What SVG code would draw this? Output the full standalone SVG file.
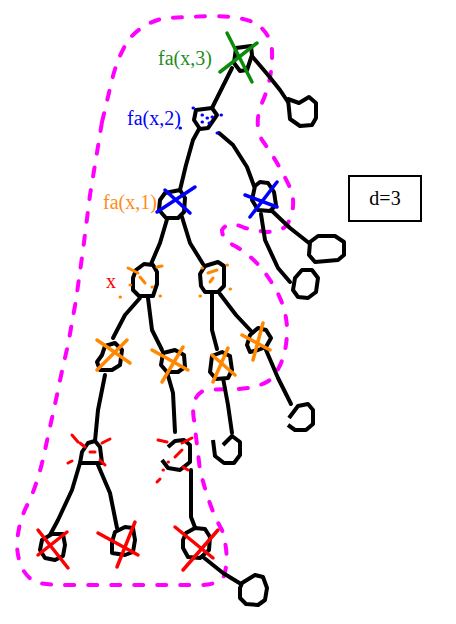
<svg xmlns="http://www.w3.org/2000/svg" width="456" height="624" viewBox="0 0 456 624">
  <style>
    .ink { fill: none; stroke: #000; stroke-width: 4; stroke-linecap: round; stroke-linejoin: round; }
    .node { fill: #fff; stroke: #000; stroke-width: 4; stroke-linejoin: round; }
    .hull { fill: none; stroke: #ff00ff; stroke-width: 4; stroke-linecap: round; stroke-dasharray: 9 14; }
    .mark { fill: none; stroke-width: 3.5; stroke-linecap: round; }
    .dots { fill: none; stroke-width: 3; stroke-linecap: round; }
    .lbl { font-family: "Liberation Serif", "Times New Roman", serif; font-size: 20px; }
  </style>
  <rect width="456" height="624" fill="#fff"/>

  <!-- dashed outline around the searched subtree -->
  <path class="hull" d="M102,122 L112,80 Q118,55 130,38 Q145,22 165,18 L210,16 Q240,16 255,23 Q270,32 272,50 Q273,80 261,105 Q254,125 262,140 Q280,165 292,192 Q296,212 286,226 Q280,232 265,232 L245,228 Q228,220 222,230 Q222,240 235,246 Q256,258 270,280 Q287,305 287,330 Q287,362 270,380 Q255,390 228,389 L205,390 Q190,396 194,420 L200,470 Q210,510 222,530 Q230,556 224,576 Q218,585 200,585 L70,585 Q45,585 35,582 Q18,572 17,545 Q18,520 30,500 Q40,475 45,450 L57,395 Q62,370 68,345 L76,300 L83,250 L90,195 Z"/>

  <!-- edges -->
  <g id="edges">
    <path class="ink" d="M232,68 L222,88 L212,108"/>
    <path class="ink" d="M251,55 L268,75 L280,90 L288,102"/>
    <path class="ink" d="M199,129 L193,140 L186,165 L180,190"/>
    <path class="ink" d="M219,133 L233,145 L247,167 L254,186"/>
    <path class="ink" d="M271,210 L290,228 L309,243"/>
    <path class="ink" d="M261,214 L265,240 L278,268 L290,282"/>
    <path class="ink" d="M168,216 L160,243 L151,264"/>
    <path class="ink" d="M182,217 L190,243 L203,264"/>
    <path class="ink" d="M140,298 L125,315 L113,338"/>
    <path class="ink" d="M148,298 L152,330 L162,350"/>
    <path class="ink" d="M212,294 L212,330 L217,349"/>
    <path class="ink" d="M220,294 L236,315 L251,331"/>
    <path class="ink" d="M105,375 L98,410 L95,441"/>
    <path class="ink" d="M167,372 L173,393 L175,432"/>
    <path class="ink" d="M223,378 L228,405 L232,433"/>
    <path class="ink" d="M266,350 L278,378 L291,404"/>
    <path class="ink" d="M80,463 L72,490 L58,520 L50,535"/>
    <path class="ink" d="M98,465 L110,493 L117,528"/>
    <path class="ink" d="M191,470 L191,517 L196,530"/>
    <path class="ink" d="M203,557 L223,573 L241,584"/>
  </g>

  <!-- nodes -->
  <g id="n-root"><path class="node" d="M236,48 L251,46 L252,55 L247,70 L240,71 L234,63 Z"/></g>
  <g id="n-root-r"><path class="node" d="M288,99 L299,103 L309,97 L316,103 L316,118 L312,125 L300,126 L290,119 Z"/></g>
  <g id="n-b"><path class="node" d="M196,110 L212,108 L217,115 L208,128 L200,129 L194,120 Z"/></g>
  <g id="n-c"><path class="node" d="M255,186 L260,182 L268,183 L274,192 L276,205 L270,211 L258,210 L252,200 Z"/></g>
  <g id="n-c1"><path class="node" d="M310,242 L318,236 L335,236 L344,242 L344,255 L338,260 L315,262 L309,255 Z"/></g>
  <g id="n-c2"><path class="node" d="M295,278 L302,270 L312,270 L318,278 L316,292 L308,298 L298,297 L293,290 Z"/></g>
  <g id="n-d"><path class="node" d="M165,193 L180,190 L185,198 L184,212 L178,218 L166,218 L159,210 L160,200 Z"/></g>
  <g id="n-e"><path class="node" d="M136,270 L144,264 L153,265 L157,272 L157,284 L153,296 L139,296 L133,290 L133,278 Z"/></g>
  <g id="n-f"><path class="node" d="M205,266 L218,262 L224,266 L224,286 L218,292 L205,292 L201,286 L200,274 Z"/></g>
  <g id="n-g"><path class="node" d="M105,346 L115,343 L122,350 L120,365 L112,370 L100,370 L97,362 L102,355 Z"/></g>
  <g id="n-h"><path class="node" d="M163,353 L175,350 L184,355 L185,367 L178,372 L167,372 L161,365 Z"/></g>
  <g id="n-i"><path class="node" d="M212,356 L222,352 L230,356 L232,370 L228,378 L216,379 L210,372 Z"/></g>
  <g id="n-j"><path class="node" d="M250,335 L258,328 L266,330 L271,338 L266,347 L258,350 L250,352 L247,345 Z"/></g>
  <g id="n-k"><path class="node" d="M223,445 L232,436 L240,442 L240,455 L234,463 L224,463 L215,456 L213,440"/></g>
  <g id="n-l"><path class="node" d="M289,418 L298,406 L308,404 L313,410 L313,424 L306,430 L295,430 L288,425"/></g>
  <g id="n-m"><path class="node" d="M88,443 L95,441 L100,447 L102,463 L80,463 L82,452 Z"/></g>
  <g id="n-n"><path class="node" d="M168,447 L175,441 L184,440 L190,445 L190,462 L180,470 L168,468 L162,460"/></g>
  <g id="n-o"><path class="node" d="M42,540 L52,534 L63,534 L65,545 L63,556 L55,560 L45,558 L40,550 Z"/></g>
  <g id="n-p"><path class="node" d="M115,532 L125,527 L133,528 L135,540 L133,552 L125,555 L112,553 L112,542 Z"/></g>
  <g id="n-q"><path class="node" d="M186,533 L195,528 L205,529 L210,537 L209,550 L200,558 L188,557 L183,548 L183,540 Z"/></g>
  <g id="n-r"><path class="node" d="M242,583 L255,575 L263,577 L267,588 L265,600 L258,605 L246,604 L240,598 L240,588 Z"/></g>

  <!-- level marks -->
  <g id="marks-green" stroke="#0b8a0b" class="mark">
    <path d="M227,33 L252,82"/>
    <path d="M220,72 L257,43"/>
  </g>
  <g id="marks-blue" stroke="#0000ff">
    <path class="mark" d="M165,190 L190,213 M157,212 L195,187"/>
    <path class="mark" d="M245,195 L277,207 M250,217 L277,182"/>
    <path class="dots" d="M193,108 l0.5,0 M202,115 l0.5,0 M207,118 l0.5,0 M212,117 l0.5,0 M221,115 l0.5,0 M202,122 l0.5,0 M209,123 l0.5,0 M180,128 l0.5,0 M217,133 l0.5,0"/>
  </g>
  <g id="marks-orange" stroke="#ff8800">
    <path class="dots" d="M128,268 L138,273 M157,267 L162,266 M140,277 L145,283 M130,285 l0.5,0 M152,287 l0.5,0 M120,297 l0.5,0 M160,296 l0.5,0"/>
    <path class="dots" d="M202,268 l0.5,0 M208,273 L217,270 M210,282 L213,278 M227,265 l0.5,0 M230,289 l0.5,0 M200,296 l0.5,0"/>
    <path class="mark" d="M97,340 L130,363 M127,340 L97,370"/>
    <path class="mark" d="M152,350 L188,370 M183,347 L162,382"/>
    <path class="mark" d="M212,355 L235,375 M228,348 L213,382"/>
    <path class="mark" d="M242,335 L270,350 M263,323 L253,360"/>
  </g>
  <g id="marks-red" stroke="#ff0000">
    <path class="dots" d="M72,435 L78,442 M80,443 L85,447 M102,443 L110,439 M90,452 L95,452 M68,463 L72,461 M100,460 L105,465"/>
    <path class="dots" d="M158,440 L167,442 M175,457 L182,450 M168,462 l0.5,0 M182,443 L192,438 M163,470 l0.5,0 M157,482 L160,479 M183,467 L188,470"/>
    <path class="mark" d="M38,530 L68,568 M67,532 L38,555"/>
    <path class="mark" d="M98,533 L138,555 M135,522 L117,567"/>
    <path class="mark" d="M175,527 L213,558 M218,530 L183,570"/>
  </g>

  <!-- labels -->
  <text class="lbl" x="158" y="65" fill="#1e8c1e">fa(x,3)</text>
  <text class="lbl" x="127" y="125" fill="#0000ff">fa(x,2)</text>
  <text class="lbl" x="103" y="209" fill="#ff8c1a">fa(x,1)</text>
  <text class="lbl" x="106" y="288" fill="#ff0000">x</text>

  <g id="depth-box">
    <rect x="349" y="176" width="72" height="45" fill="#fff" stroke="#000" stroke-width="2"/>
    <text class="lbl" x="385" y="205" text-anchor="middle" fill="#000">d=3</text>
  </g>
</svg>
